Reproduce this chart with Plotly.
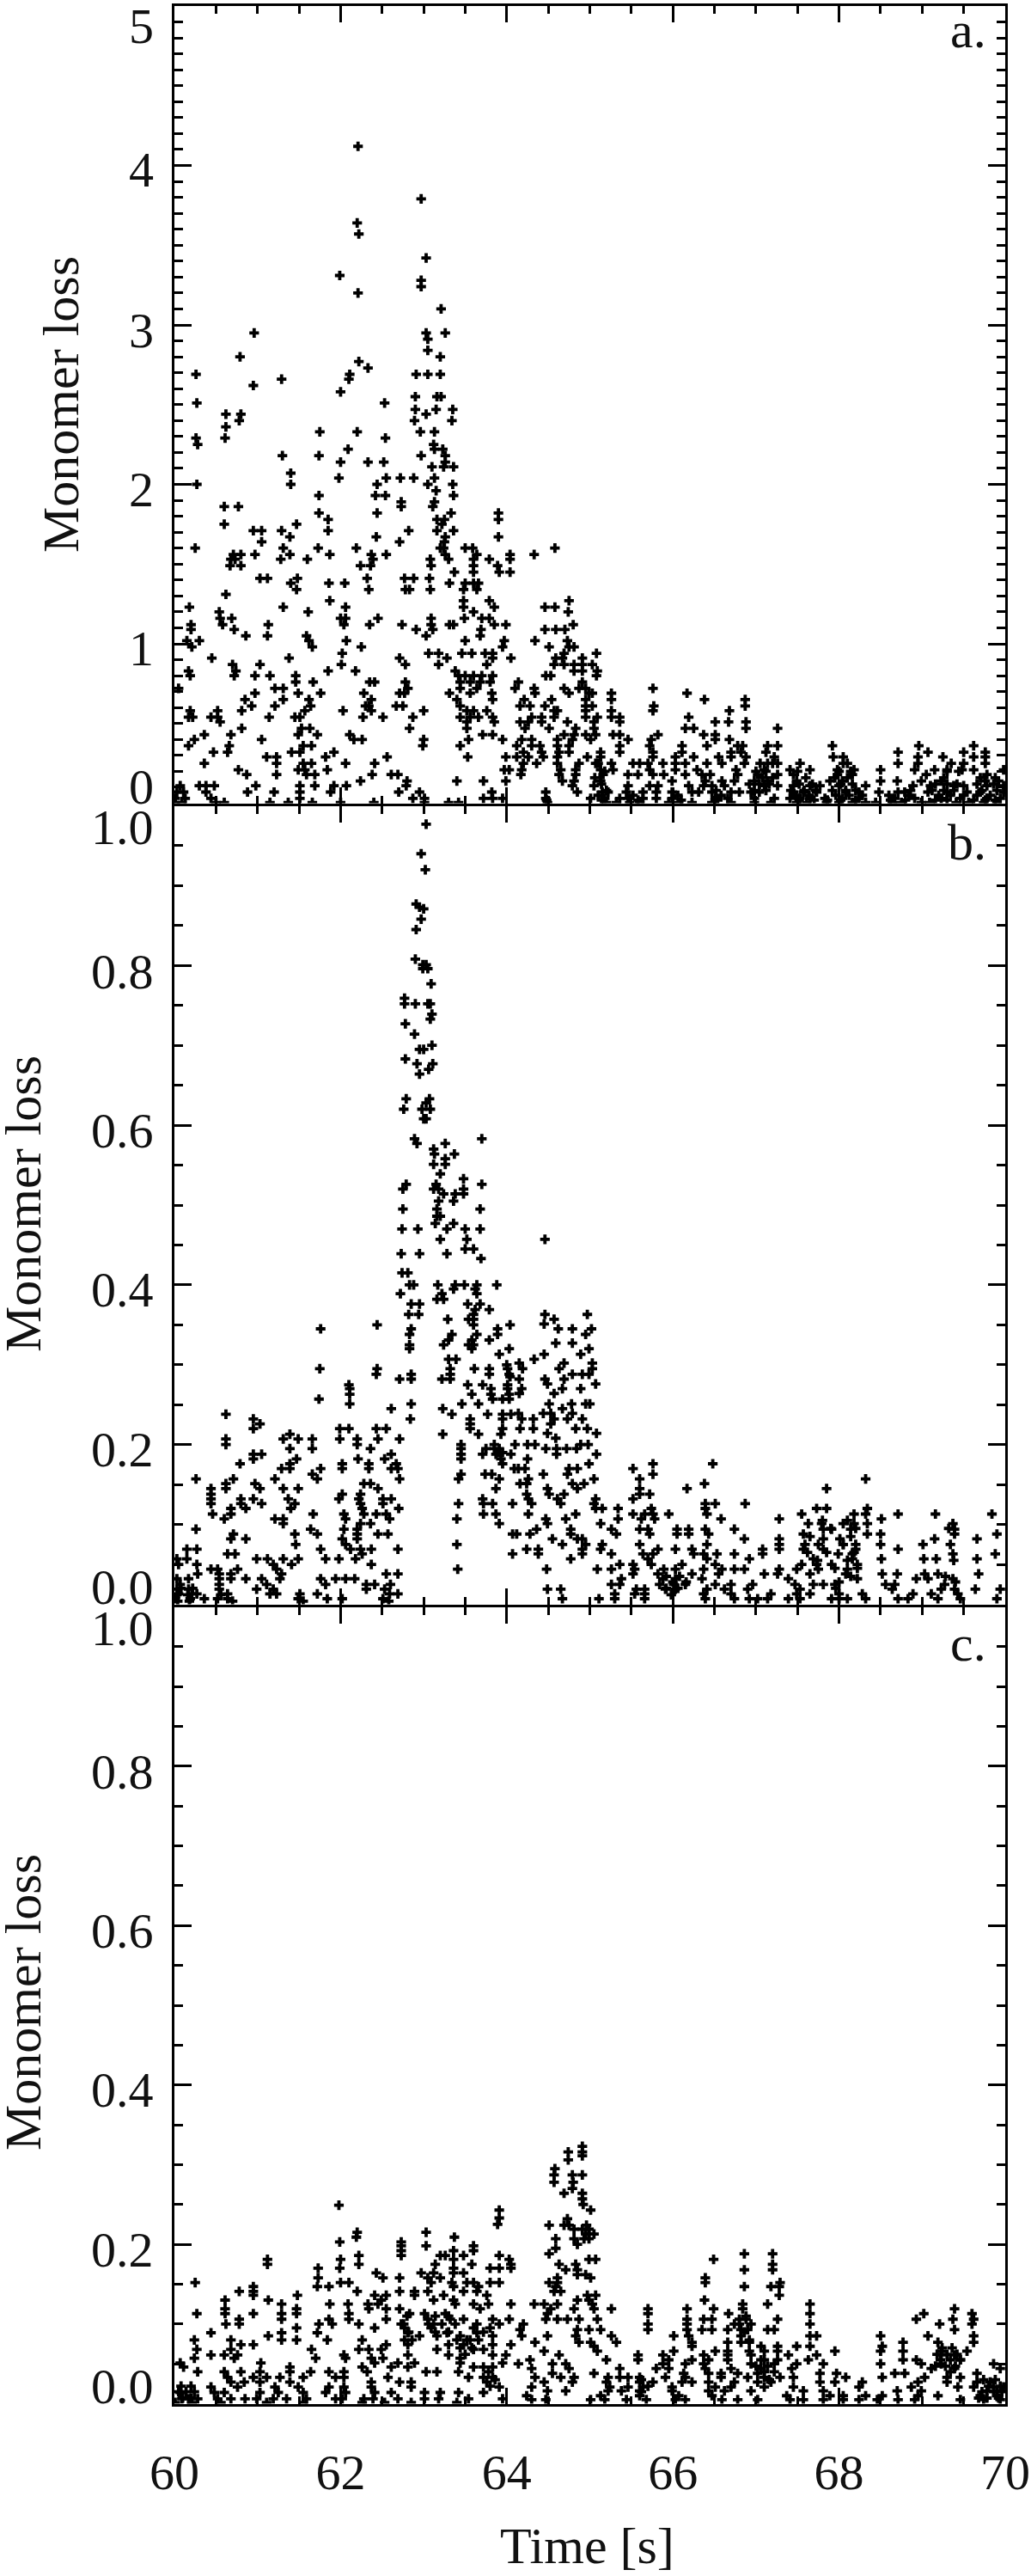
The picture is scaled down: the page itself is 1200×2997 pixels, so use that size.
import plotly.graph_objects as go

# Values: (loss level, [times at that level])
a_early = [
(4.12,[62.21]),(3.79,[62.97]),(3.64,[62.2]),(3.57,[62.22]),(3.42,[63.03]),(3.31,[61.99]),(3.28,[62.97]),(3.24,[62.97]),
(3.2,[62.21]),(3.1,[63.21]),(2.95,[60.96,63.03,63.26]),(2.91,[63.05]),(2.84,[63.05]),(2.8,[60.79,63.2]),(2.77,[62.22]),
(2.73,[62.33]),(2.69,[60.26,62.11,62.91,63.05,63.2]),(2.66,[61.29,62.1]),(2.62,[60.95]),(2.58,[62.0]),(2.55,[62.9,63.16,63.21]),
(2.51,[60.27,62.53]),(2.47,[62.9,63.15,63.35]),(2.44,[60.62,60.8,63.03]),(2.4,[60.78,62.89,63.34]),(2.36,[60.62]),
(2.33,[61.75,62.2,62.96,63.13]),(2.29,[60.26,60.61,62.54]),(2.25,[60.28,63.12]),(2.22,[62.09,63.13,63.23]),
(2.18,[61.3,61.74,62.97,63.26]),(2.14,[62.0,62.33,62.52,63.26]),(2.11,[63.1,63.24,63.36]),(2.07,[61.4]),
(2.04,[61.98,62.55,62.72,62.88,63.13]),(2.0,[60.27,61.4,62.44,63.05,63.35]),(1.96,[63.15]),(1.93,[61.74,62.42,62.54,63.36]),
(1.89,[62.73,63.13]),(1.86,[60.6,60.77,62.73,63.11]),(1.82,[61.74,62.44,63.33,63.9]),(1.78,[61.85,63.16,63.25,63.9]),
(1.75,[60.6,61.47,63.22]),(1.71,[60.95,61.05,61.29,61.85,62.82,63.16,63.36]),(1.67,[61.39,62.43,63.26,63.9]),
(1.64,[61.05,62.71,63.25]),(1.6,[60.25,61.31,61.73,62.19,63.2,63.5,63.59,63.24]),
(1.56,[60.71,60.8,60.97,61.39,61.87,62.37,62.55,63.26,63.64,64.04]),(1.53,[60.68,60.73,61.28,61.6,62.39,63.08,63.3,63.6,63.79,64.04]),
(1.49,[60.67,60.8,62.24,62.36,63.09,63.6,63.89]),(1.45,[63.37,63.6,63.91,64.04]),
(1.41,[61.03,61.12,61.48,62.32,62.77,62.88,63.07]),(1.38,[61.4,61.86,62.05,63.31,63.5,63.6,63.66]),
(1.34,[61.47,62.34,62.78,62.83,63.08,63.48,63.64]),(1.31,[60.62]),(1.27,[61.87,63.48,63.79]),
(1.23,[60.18,61.31,62.06,63.48,63.85]),(1.2,[60.54,61.61,63.6]),(1.16,[60.55,60.69,62.0,62.06,62.45,63.09,63.49,63.7,63.79]),
(1.12,[60.2,60.58,61.13,62.04,62.35,62.74,63.36,63.09,63.31,63.85,63.99]),(1.09,[60.2,60.72,62.91,63.11,63.69]),
(1.05,[60.86,61.12,61.59,63.03,63.68]),(1.02,[60.15,60.3,61.62,62.07,63.5,63.97]),(0.98,[60.21,61.66,62.25,63.95]),
(0.94,[62.02,63.06,63.18,63.46,63.58,63.74,63.83]),(0.91,[60.45,61.38,62.71,63.28,63.83,64.05]),
(0.87,[60.7,61.03,62.01,62.78,63.18,63.76]),(0.83,[60.17,60.74,61.85,62.18,63.38]),
(0.8,[60.19,60.72,60.97,61.15,61.46,63.42,63.5,63.6,63.7,63.83]),(0.76,[61.67,61.46,62.35,62.41,62.78,63.44,63.56,63.68,63.8]),
(0.72,[60.05,61.21,61.31,62.81,63.44,63.64]),(0.69,[60.97,61.49,61.76,62.28,62.71,62.77,63.31,63.56,63.82]),
(0.65,[60.85,61.31,61.62,62.37,63.4,63.83]),(0.61,[60.93,61.21,61.64,62.3,62.34,62.67,62.75,63.44]),
(0.58,[60.19,60.52,60.81,61.57,62.03,62.37,63.0,63.52,63.6,63.76]),
(0.54,[60.17,60.22,60.44,60.52,61.14,61.45,61.51,62.27,62.51,62.87,63.44,63.56,63.66,63.83]),
(0.51,[60.55,63.52,63.85]),(0.47,[60.81,61.53,61.63,62.83,63.52]),
(0.43,[60.36,60.68,61.49,61.72,62.11,63.71,63.83]),(0.4,[60.24,61.05,62.16,62.26,63.0,63.54,63.95]),
(0.36,[60.17,60.66,61.55,61.65,62.99,63.44]),(0.32,[60.47,60.64,61.41,61.51,61.92]),
(0.29,[61.11,61.23,61.82,62.56,63.53,63.99]),(0.25,[60.36,61.23,61.55,61.65,62.06,62.41]),
(0.21,[60.77,61.49,61.57,61.84,63.97,64.03]),(0.18,[60.87,61.23,61.59,61.69,62.38,62.61,62.69]),
(0.14,[62.24,62.8,63.4,63.72,63.99]),(0.11,[60.07,60.3,60.38,60.48,60.98,61.51,61.69,61.92,62.07,62.79]),
(0.07,[60.03,60.11,60.38,60.88,61.2,61.51,61.88,62.7,62.95,63.82]),(0.03,[60.01,60.13,60.44,61.51,62.87,63.01,63.72,63.83,63.95]),
(0.005,[60.01,60.09,60.5,60.6,61.15,61.37,61.66,62.0,62.4,63.01,63.3,63.42]),
]
a_late = [
(1.6,[64.58]),(1.56,[64.33]),(1.27,[64.75]),(1.23,[64.46,64.58]),(1.2,[64.74]),(1.12,[64.8]),(1.09,[64.46,64.59,64.7]),
(1.02,[64.34,64.73]),(0.98,[64.51,64.75,64.81]),(0.94,[64.69,65.08]),(0.91,[64.59,64.67,64.91]),
(0.87,[64.57,64.69,64.81,64.91,65.03]),(0.83,[64.81,64.91,65.09]),(0.8,[64.47,64.53,65.08]),(0.76,[64.14,64.91]),
(0.72,[64.1,64.33,64.69,64.87,64.95,65.76]),(0.69,[64.34,64.75,64.99,65.03,65.26,66.17]),
(0.65,[64.21,64.54,64.95,65.26,66.38,66.87]),(0.61,[64.16,64.28,64.46,64.95,65.03,65.77,66.87]),
(0.58,[64.57,64.61,64.95,65.26,65.76,66.68]),(0.54,[64.3,64.42,64.57,64.95,65.09,65.26,65.36,66.19]),
(0.51,[64.16,64.26,64.42,64.73,65.05,65.36,66.51,66.67,66.88]),(0.47,[64.22,64.51,64.83,65.05,66.15,66.25,66.88,67.26]),
(0.43,[64.69,64.81,64.95,65.07,65.28,65.36,65.82,66.37,66.51]),(0.4,[64.18,64.3,64.61,64.79,65.01,65.46,65.74,66.51,66.68]),
(0.36,[64.12,64.3,64.4,64.61,64.75,65.36,65.72,66.11,66.41,66.78,66.84,67.26,67.14,67.92,68.96,69.62]),
(0.32,[64.2,64.42,64.63,64.75,65.13,65.36,65.76,66.11,66.7,66.82,67.12,68.71,69.07,69.5,69.76]),
(0.29,[64.12,64.26,64.44,64.61,64.97,65.13,65.76,66.03,66.25,66.55,66.7,66.88,67.22,67.93,68.05,68.95,69.25,69.62,69.76]),
(0.25,[64.2,64.36,64.61,64.87,65.07,65.26,65.52,65.6,65.7,65.88,66.03,66.15,66.41,66.59,66.86,67.14,67.26,67.53,68.05,68.71,68.95,69.35,69.5,69.76]),
(0.21,[64.18,64.65,64.83,65.13,65.28,65.72,66.03,66.29,66.76,67.1,67.41,67.65,67.98,68.18,68.5,68.91,69.15,69.3,69.48,69.62,69.98]),
(0.18,[64.17,64.63,64.83,65.16,65.46,65.58,65.76,65.89,66.15,66.35,66.45,66.78,67.02,67.26,67.45,67.98,68.16,69.05,69.78]),
(0.14,[64.67,64.81,65.13,65.99,66.39,66.59,66.74,66.98,67.14,67.49,67.89,68.04,68.5,68.7,68.99,69.23,69.76,69.92]),
(0.11,[64.79,65.05,65.46,65.72,65.82,66.19,66.37,66.47,66.62,67.1,67.26,67.45,67.65,67.77,68.0,68.32,68.89,69.1,69.38,69.5,69.78,69.98]),
(0.07,[64.47,64.85,65.15,65.22,65.44,65.64,65.8,65.99,66.23,66.31,66.47,66.7,66.8,66.94,67.04,67.45,67.57,67.73,68.08,68.24,68.48,68.71,68.79,69.07,69.3,69.54,69.7,69.98]),
(0.03,[64.47,65.01,65.18,65.36,65.46,65.64,65.8,65.99,66.51,66.66,66.98,67.22,67.41,67.53,67.65,67.83,68.04,68.24,68.67,68.91,69.23,69.46,69.78,69.94]),
(0.005,[64.49,65.2,65.32,65.48,65.6,65.95,66.07,66.23,66.47,66.7,66.98,67.18,67.49,67.61,67.85,68.0,68.16,68.32,68.44,68.64,68.75,68.99,69.09,69.41,69.56,69.74,69.9]),
]
a_dense = [
(0.25,[65.1,67.05,67.2,68.1]),(0.2,[65.18,67.0,67.12,67.5,68.0,68.14,69.3,69.44]),
(0.16,[65.06,67.08,67.2,67.6,67.95,68.1,69.26,69.7,69.88]),
(0.12,[65.14,66.92,67.04,67.16,67.52,67.68,68.02,68.16,69.16,69.3,69.42,69.66,69.86]),
(0.08,[65.2,66.52,66.98,67.12,67.42,67.58,67.72,67.92,68.08,68.2,68.86,69.12,69.26,69.38,69.72,69.9]),
(0.05,[65.1,65.52,66.06,66.58,67.48,67.64,67.96,68.12,68.28,68.6,68.84,69.2,69.34,69.5,69.66,69.82]),
(0.02,[64.48,65.14,65.58,66.1,66.54,67.52,67.7,67.86,68.02,68.2,68.62,68.8,69.16,69.3,69.62,69.76,69.88]),
]

b_early = [
(0.977,[63.03]),(0.94,[62.97]),(0.92,[63.02]),(0.877,[62.91]),(0.873,[62.95]),(0.871,[63.0]),(0.858,[62.97]),(0.845,[62.91]),
(0.808,[62.9]),(0.801,[62.99,63.03]),(0.796,[62.99,63.05]),(0.777,[63.09]),(0.759,[62.77]),(0.752,[62.77,62.9,63.05,63.08]),
(0.739,[63.1]),(0.733,[63.08]),(0.727,[62.78]),(0.714,[62.89]),(0.7,[63.1]),(0.695,[62.95,63.0]),(0.683,[62.78]),
(0.677,[62.92,63.11]),(0.67,[63.06]),(0.664,[62.95]),(0.633,[62.79,63.07]),(0.628,[63.03]),(0.62,[62.76,62.98,63.08]),
(0.608,[63.0,63.03]),(0.583,[62.89,63.7]),(0.577,[62.92,63.26]),(0.57,[63.12]),(0.564,[63.13,63.37]),(0.558,[63.26]),
(0.551,[63.12,63.26]),(0.539,[63.2]),(0.533,[63.48]),(0.526,[62.79,63.15,63.7]),(0.52,[62.75,63.12,63.18,63.48]),
(0.514,[63.24,63.38,63.48]),(0.505,[63.18,63.36]),
(0.495,[62.75,63.16,63.68]),(0.486,[63.16,63.2]),(0.477,[63.14,63.36]),(0.47,[62.74,62.93,63.28,63.5,63.68]),
(0.457,[63.2,63.52]),(0.445,[63.5,63.6]),(0.439,[62.73,62.95,63.28]),(0.433,[63.69]),(0.415,[62.74,62.81]),
(0.4,[62.83,62.88,63.17,63.38,63.49,63.64,63.88]),(0.395,[63.36,63.62]),(0.389,[62.72,63.22,63.64]),(0.382,[63.16,63.24]),
(0.376,[62.85,62.95,63.53,63.68]),(0.369,[63.62,63.79]),(0.363,[62.82,62.94,63.6]),(0.357,[63.29,63.54,63.6]),
(0.35,[62.44,63.6,64.04]),(0.345,[61.76,62.85,63.89]),(0.338,[62.83,63.34,63.64,63.89]),(0.331,[63.3,63.58,63.79]),
(0.325,[62.83,63.24,63.54,63.6]),(0.32,[62.83,63.58,64.03]),(0.313,[63.91]),(0.307,[63.3,63.39]),
(0.295,[61.75,62.44,63.32,63.61,63.79,64.01]),(0.288,[62.43,62.85,63.32,63.79,64.03]),(0.282,[62.71,62.85,63.22,63.32]),
(0.275,[62.1,63.53,63.71,64.01]),(0.27,[62.11,63.81]),(0.263,[62.11,63.58,63.81,64.03]),(0.257,[61.74,63.83,63.95,64.03]),
(0.251,[62.11,62.85,63.46,63.66]),(0.245,[62.61,63.23]),(0.238,[60.62,63.34,63.77,63.95,64.05]),(0.232,[60.95,62.84,63.56,63.95]),
(0.226,[61.03,63.56]),(0.22,[60.95,61.99,62.1,62.43,62.55,63.56,63.95]),(0.213,[61.39,63.23,63.66,63.93]),
(0.207,[60.62,61.31,61.49,61.66,61.99,62.2,62.45,62.71]),(0.2,[60.62,62.2,63.45,63.85]),
(0.195,[61.39,61.66,62.36,63.45,63.75,63.85,63.91]),(0.188,[60.95,61.05,62.61,63.45,63.71,63.87,64.05]),
(0.182,[60.95,61.47,62.21,62.53,63.45,63.93]),(0.176,[60.79,61.39,62.02,62.34,62.67,63.95]),
(0.17,[61.29,61.39,61.76,62.02,62.34,62.61,62.69,64.09]),(0.163,[61.66,63.45,63.74,63.82]),
(0.157,[60.26,60.71,61.21,61.72,62.71,63.42,63.91]),(0.151,[60.62,60.97,62.28,62.36]),
(0.145,[60.44,60.62,61.03,61.31,61.49,62.45,63.87]),(0.138,[60.44,62.02,62.24]),
(0.132,[60.44,60.8,60.95,61.37,61.98,62.22,62.61,62.51,63.71]),(0.126,[60.44,60.8,61.05,61.45,63.42,62.24,62.51,63.72,63.83,64.07]),
(0.12,[60.68,60.86,61.4,62.7,62.26]),(0.113,[60.46,60.68,61.67,62.04,62.28,62.43,62.55,63.72,63.87]),
(0.107,[60.6,61.21,61.31,62.06,62.59,63.4]),(0.101,[61.31,62.24,62.36,63.91]),(0.094,[60.26,61.64,62.04,62.2]),
(0.088,[60.71,61.45,61.72,62.45,62.57,62.2,64.07]),(0.082,[60.68,60.86,62.02,62.2]),(0.075,[61.46,62.06,63.4]),
(0.069,[60.15,60.27,61.76,62.12,62.24,62.37,62.69]),(0.063,[60.64,60.73,62.26,64.07]),
(0.057,[60.03,60.15,60.99,61.12,61.31,61.49,61.82,61.98,62.18]),(0.05,[60.05,60.27,61.19,61.41,62.37]),
(0.044,[60.44,60.52,60.76,63.41,61.23]),(0.038,[60.28,60.54,60.68,61.29,62.55,62.69]),
(0.032,[60.03,60.17,60.54,60.68,60.86,61.05,61.27,61.76,61.94,62.06,62.17]),(0.025,[60.07,60.54,61.11,61.82,62.41,62.31,62.6]),
(0.019,[60.03,60.17,60.54,60.99,61.19,62.31,62.53]),(0.013,[60.05,60.21,60.27,60.64,61.15,61.23,61.51,61.72,62.59,62.69]),
(0.007,[60.01,60.19,60.36,60.52,60.64,61.49,61.84,62.02,62.51]),
]
b_late = [
(0.457,[64.46]),(0.363,[64.46,64.97]),(0.357,[64.57]),(0.351,[64.45]),(0.345,[64.62,64.79,65.02]),(0.338,[64.95]),
(0.327,[64.59,64.79]),(0.32,[64.99]),(0.313,[64.45,64.89]),(0.307,[64.33]),(0.302,[64.15,64.69,65.03]),(0.295,[64.19,64.63,65.03]),
(0.288,[64.79,64.91,64.99]),(0.282,[64.15,64.46,64.69]),(0.276,[64.49,65.07]),(0.27,[64.18,64.67,64.89]),(0.264,[64.15,64.57]),
(0.251,[64.51,64.78,64.95,65.0]),(0.245,[64.67]),(0.239,[64.14,64.44,64.53,64.79]),(0.232,[64.18,64.32,64.73,64.57,64.91]),
(0.226,[64.53]),(0.22,[64.16,64.32,64.83,64.97]),(0.214,[64.49,65.08]),(0.208,[64.59]),(0.2,[64.1,64.25,64.34,64.89,64.98]),
(0.195,[64.47,64.6,64.72,64.84]),(0.188,[64.6,65.08]),(0.182,[64.25]),(0.176,[64.99,65.76,66.48]),(0.17,[65.52,64.14,64.22,64.75,64.85]),
(0.163,[64.44,64.73,65.76]),(0.157,[64.26,65.05,68.32,65.6]),(0.151,[64.16,64.24,64.79,64.93,66.38]),
(0.145,[64.49,64.85,66.17,67.85,65.6]),(0.138,[64.24,64.51,64.69,65.6,65.72]),(0.132,[64.26,64.61,65.07,65.52]),
(0.126,[64.3,64.65,65.05,66.39,66.51,66.87]),(0.12,[65.07,65.15,65.34,65.74,66.39,67.73,67.85,68.34]),
(0.113,[64.26,64.83,65.52,65.66,65.76,65.95,66.41,67.55,68.18,68.32,68.71,69.16,69.84]),
(0.107,[64.47,64.71,65.34,65.62,65.78,66.58,67.28,68.51]),(0.101,[64.49,65.13,67.63,67.79,68.05,68.18,68.34,69.37]),
(0.094,[64.36,64.77,65.26,65.6,65.7,66.05,66.19,66.39,66.74,67.81,67.91,68.14,69.39]),
(0.088,[64.12,64.28,64.77,65.32,65.72,66.05,66.19,66.43,67.57,68.34,68.5,69.39,69.9]),
(0.082,[64.55,64.85,64.91,66.86,67.28,67.81,68.01,69.15,69.66]),
(0.075,[64.67,64.95,65.15,65.6,66.41,67.28,67.59,68.05,68.2,68.5,69.01]),
(0.069,[64.24,64.38,64.91,65.13,65.82,66.03,66.23,67.28,67.08,67.57,67.81,68.2,68.71]),
(0.063,[64.38,64.91,65.26,65.64,65.76,66.25,66.37,66.53,66.74,67.08,67.99,68.16,69.37,69.88]),
(0.057,[64.77,65.7,66.41,66.92,67.69,68.16,68.51,69.02,69.17,69.66]),
(0.05,[65.36,65.52,65.74,66.11,66.51,67.55,67.73,67.91,68.22]),
(0.044,[64.48,65.09,65.26,65.54,65.89,66.03,66.37,66.59,66.74,66.86,67.28,67.49,67.75,68.1]),
(0.038,[65.52,65.82,66.23,66.55,67.1,67.26,67.65,68.08,68.52,68.7,69.03,69.19,69.68]),
(0.032,[65.38,65.88,66.03,66.35,67.39,68.22,68.93,69.07,69.37]),
(0.025,[65.26,65.36,65.84,66.01,66.15,66.51,66.7,66.96,67.47,67.69,67.81,67.95,68.56,68.67,69.27]),
(0.019,[64.49,64.65,65.56,65.66,65.91,66.03,66.41,66.62,66.9,67.53,68.64,69.23,69.39,69.64,69.94]),
(0.013,[65.3,65.54,65.66,66.37,66.7,67.18,67.49,67.65,68.0,68.28,68.89,69.11,69.43]),
(0.007,[64.67,65.11,65.3,65.66,66.39,66.74,66.92,67.02,67.14,67.39,67.53,67.91,68.0,68.1,68.32,68.71,68.83,69.19,69.46,69.9]),
]
b_dense = [
(0.3,[64.0]),(0.285,[64.04]),(0.27,[64.01]),(0.19,[63.9,63.95]),(0.105,[67.8,68.1]),(0.095,[67.9,68.2,69.32]),(0.085,[67.65,68.14]),
(0.075,[67.75,68.05,69.34]),(0.065,[67.62,67.85,68.18]),(0.055,[67.74,68.1,69.38]),(0.045,[67.95,68.22]),(0.035,[65.92,66.08,68.14,69.28]),
(0.028,[66.0,66.16,68.0,69.4]),(0.02,[60.08,60.22,65.92,66.06,67.96]),(0.012,[60.03,60.16,60.56,65.98]),(0.004,[60.04,60.18,60.7,61.55,62.58]),
]

c_early = [
(0.249,[61.98]),(0.243,[63.91]),(0.233,[63.91]),(0.225,[63.89]),(0.215,[63.03,62.2]),(0.209,[62.19,63.37]),(0.203,[61.99,62.73]),
(0.198,[63.03,62.73,63.6]),(0.192,[63.36,63.6,62.73]),(0.186,[62.22,62.73,63.2,63.26,63.48,63.91]),
(0.181,[61.12,62.0,63.36,64.03]),(0.175,[61.12,62.22,63.14,63.58,64.05]),(0.17,[61.73,61.99,63.36,63.8,63.91,64.05]),
(0.164,[62.43,62.97,63.12,63.36,63.48]),(0.158,[61.73,62.51,62.71,63.05,63.2]),
(0.152,[60.25,62.0,62.1,63.09,63.34,63.52,63.6,63.8,63.91]),(0.147,[60.95,61.72,61.86,63.36,63.66]),
(0.141,[60.78,60.95,62.2,62.71,62.89,63.05,63.48,63.64]),(0.136,[60.95,61.48,62.41,62.55,62.89,63.24,63.76]),
(0.13,[60.61,61.13,62.49,63.36,63.12]),(0.125,[61.29,61.87,62.09,62.33,62.45,63.38,63.6,63.78,64.05]),
(0.119,[60.61,61.47,62.34,62.55,62.71,63.68]),(0.113,[60.27,60.61,60.95,61.29,61.47,62.1,62.83,63.01,63.26]),
(0.106,[60.78,61.29,61.86,62.1,62.55,63.05,63.32,63.48,63.83,64.03]),(0.1,[60.62,60.78,61.74,61.9,62.22,62.73,63.12,63.64,63.91]),
(0.095,[61.47,62.41,62.77,63.09,63.6,63.8]),(0.089,[60.44,61.29,61.72,62.81,63.28,63.64]),
(0.085,[61.13,62.95,63.16,63.44,63.83]),(0.08,[60.24,60.68,61.29,61.47,61.84,62.26,62.77,63.4,63.56]),
(0.074,[60.8,60.95,62.81,62.55,63.3,63.48,63.83,64.05]),(0.068,[60.27,60.68,61.65,62.22,62.34,62.49,63.16,63.6,63.72]),
(0.061,[60.44,60.6,60.76,62.04,62.81,63.3,63.83,63.99]),(0.057,[60.24,60.72,61.7,62.06,62.37,62.51,63.44]),
(0.051,[60.07,61.04,62.41,62.69,62.89,63.44,63.95]),(0.046,[60.11,61.39,62.26,62.61,62.81,63.6,63.72,63.83]),
(0.04,[60.28,60.6,60.8,61.03,61.39,61.64,61.86,62.04,62.32,63.03,63.16,63.42]),
(0.033,[60.64,60.95,61.11,61.27,61.55,61.94,62.04,62.57,63.54,63.72,63.83]),
(0.027,[60.68,60.84,61.03,61.39,62.37,62.71,62.85,63.76]),(0.021,[60.44,60.76,61.21,61.49,61.86,62.04,62.37,62.85,63.91]),
(0.014,[60.07,60.48,60.6,61.03,61.25,61.55,61.82,62.06,62.41,62.61,63.01,63.2,63.42,63.72]),
(0.006,[60.09,60.17,60.28,60.52,60.68,60.85,60.99,61.19,61.35,61.59,61.94,62.02,62.28,62.39,62.69,63.01,63.18,63.54,63.95]),
(0.0015,[60.01,60.21,60.56,61.11,61.55,62.26,62.53,62.85,63.4]),
]
c_late = [
(0.323,[64.91]),(0.316,[64.74,64.91]),(0.311,[64.91]),(0.306,[64.74]),(0.295,[64.58]),(0.287,[64.57,64.79,64.91]),(0.278,[64.57,64.8]),
(0.27,[64.79]),(0.264,[64.69,64.91]),(0.257,[64.91]),(0.25,[64.92]),(0.243,[65.01]),(0.232,[64.73]),
(0.224,[64.51,64.69,64.75,64.96]),(0.219,[64.81,64.91,64.99]),(0.213,[64.95,64.99,65.05]),(0.207,[64.59,64.81,64.93,64.99]),
(0.2,[64.85]),(0.195,[64.59]),(0.188,[64.51,66.86,67.2]),(0.181,[64.99,65.07,66.49]),(0.175,[64.63,64.83,67.2]),
(0.168,[64.71,64.85,66.86,67.2]),(0.162,[64.85,64.95]),(0.158,[64.61,65.01,66.39]),(0.152,[64.51,64.61,66.39,67.29]),
(0.147,[64.59,66.86,67.18,67.28]),(0.141,[64.65,64.57]),(0.136,[64.97,65.07,67.28]),(0.13,[64.85,64.99,66.38]),
(0.125,[64.33,64.45,64.61,65.03,66.84,67.14,67.65]),(0.119,[64.53,65.26,64.81,65.05,65.7,66.17,66.49,66.84,69.39]),
(0.113,[64.49,66.67,67.65,69.02,65.7,69.6]),(0.106,[64.47,64.61,64.73,64.87,65.09,66.17,66.37,66.47,66.8,66.88,67.26,68.93,69.37,69.62]),
(0.1,[64.2,65.7,66.74,66.17,67.65,69.21,69.6]),(0.093,[64.16,64.85,64.99,65.13,65.7,66.17,66.35,66.47,66.66,66.82,66.9,67.22,67.14,69.39]),
(0.085,[64.18,64.49,64.83,65.26,66.01,66.19,66.82,67.65,67.73,68.5,69.62,69.07]),
(0.077,[64.34,64.87,65.01,65.32,66.23,66.66,66.82,66.92,68.77,69.19,69.62]),
(0.072,[65.05,66.23,67.26,67.49,68.52,67.06,67.65]),
(0.066,[64.45,65.09,66.01,66.51,66.66,66.92,67.1,67.26,67.95,68.5,68.77,69.23,69.54]),
(0.061,[64.63,65.58,65.88,66.37,66.66,66.94,67.39,67.73,69.23,69.39]),
(0.055,[64.28,65.2,65.58,65.95,66.23,66.43,66.66,67.1,67.26,67.63,68.77,68.93,69.46]),
(0.05,[64.14,64.55,64.71,65.88,66.15,66.37,66.94,67.22,67.49,67.81,68.5,68.99,69.23,69.86]),
(0.044,[64.3,64.75,65.36,65.8,65.95,66.39,66.7,67.06,67.43,69.11,69.39,69.94]),
(0.038,[64.55,65.05,66.13,66.43,66.58,66.78,67.02,67.77,67.97,68.67,68.79,69.66]),
(0.033,[64.34,64.65,64.81,65.22,65.36,65.46,65.6,65.91,66.15,66.58,66.9,67.1,67.29,67.45,68.08,68.52,69.03,69.3,69.46]),
(0.027,[64.45,64.79,65.2,65.6,65.76,66.11,66.23,66.43,66.74,67.02,67.18,67.77,67.95,68.28,68.95,69.3,69.66,69.82]),
(0.021,[64.3,65.24,65.46,65.64,65.99,66.51,66.7,67.1,67.45,68.24,68.87,69.43,69.62,69.86,69.98]),
(0.016,[64.49,64.71,65.22,65.38,65.6,65.99,66.43,66.62,66.94,67.57,67.81,68.7,68.99,69.9,69.78]),
(0.01,[64.24,65.13,65.6,66.07,66.47,67.37,67.89,68.05,68.32,68.52,68.95,69.19,69.7,69.9]),
(0.005,[64.3,64.47,65.01,65.18,65.44,65.68,66.03,66.15,66.59,66.78,67.02,67.41,67.57,67.81,68.05,68.24,68.46,68.71,68.91,69.46,69.74,69.94]),
]
c_dense = [
(0.11,[62.8,63.14,63.3,66.88]),(0.1,[62.76,63.06,63.22,63.38,66.8,66.94]),(0.09,[62.82,63.14,63.3,63.72,66.86]),(0.08,[62.86,63.52,63.66,66.92]),
(0.07,[63.44,63.58,69.24,69.36]),(0.062,[63.5,69.18,69.3,69.42]),(0.055,[67.06,69.22,69.34,69.46]),(0.047,[67.0,67.14,69.16,69.28,69.4]),
(0.04,[63.78,67.1,67.22,69.34]),(0.03,[63.86,65.62,67.16,69.74,69.88]),(0.022,[60.08,60.2,63.8,65.7,69.8,69.94]),
(0.015,[60.05,60.14,60.24,65.62,69.72,69.86,69.96]),(0.007,[60.1,60.2,69.68,69.78,69.92]),
]

tick_x = [60, 62, 64, 66, 68, 70]
a_ticks = ["0", "1", "2", "3", "4", "5"]
bc_ticks = ["0.0", "0.2", "0.4", "0.6", "0.8", "1.0"]
panel_letters = ["a.", "b.", "c."]
y_title = "Monomer loss"
x_title = "Time [s]"

W, H = 1200, 2997
SERIF = "Liberation Serif"
INK = "#111111"
X0, X1 = 203, 1170
PANELS = [(7, 934.5), (937.5, 1866.5), (1869.5, 2796.5)]


def unpack(rows):
    xs, ys = [], []
    for level, times in rows:
        for t in times:
            xs.append(t)
            ys.append(level)
    return xs, ys


fig = go.Figure()
series = [(a_early + a_late + a_dense, "x", "y"), (b_early + b_late + b_dense, "x2", "y2"), (c_early + c_late + c_dense, "x3", "y3")]
for rows, xa, ya in series:
    xs, ys = unpack(rows)
    fig.add_trace(go.Scatter(
        x=xs, y=ys, xaxis=xa, yaxis=ya, mode="markers", showlegend=False,
        marker=dict(symbol="cross-thin", size=8, color="black", line=dict(color="black", width=3.8)),
    ))

ranges = [(0, 5), (0, 1), (0, 1)]
y_major = [1, 0.2, 0.2]
y_minor = [0.1, 0.05, 0.05]
for i, ((top, bottom), rng) in enumerate(zip(PANELS, ranges)):
    sfx = "" if i == 0 else str(i + 1)
    fig.update_layout({
        "xaxis" + sfx: dict(
            domain=[X0 / W, X1 / W], range=[60, 70], anchor="y" + sfx,
            showgrid=False, zeroline=False, showline=True, linewidth=3, linecolor="black", mirror="ticks",
            ticks="inside", ticklen=19, tickwidth=2.5, tickcolor="black",
            tickmode="array", tickvals=tick_x, ticktext=[str(v) for v in tick_x],
            showticklabels=i == 2, ticklabelstandoff=27, tickfont=dict(family=SERIF, size=58, color=INK),
            minor=dict(ticks="inside", ticklen=9, tickwidth=2.5, tickcolor="black", dtick=0.5, tick0=60, showgrid=False),
        ),
        "yaxis" + sfx: dict(
            domain=[1 - bottom / H, 1 - top / H], range=list(rng), anchor="x" + sfx,
            showgrid=False, zeroline=False, showline=True, linewidth=3, linecolor="black", mirror="ticks",
            ticks="inside", ticklen=20, tickwidth=2.5, tickcolor="black",
            tick0=0, dtick=y_major[i], showticklabels=False,
            minor=dict(ticks="inside", ticklen=10, tickwidth=2.5, tickcolor="black", dtick=y_minor[i], tick0=0, showgrid=False),
        ),
    })

ann = []
def label(txt, val, axis, shift):
    ann.append(dict(text=txt, x=0, xref="paper", y=val, yref=axis, yshift=shift, xshift=181,
                    xanchor="right", yanchor="middle", showarrow=False,
                    font=dict(family=SERIF, size=58, color=INK)))

for txt, val, s in zip(a_ticks, [0, 1, 2, 3, 4, 5], [19, -6, -6, -7, -5, -24]):
    label(txt, val, "y", s)
for axis in ("y2", "y3"):
    for txt, val, s in zip(bc_ticks, [0, 0.2, 0.4, 0.6, 0.8, 1.0], [20, -6, -6, -6, -7, -25]):
        label(txt, val, axis, s)

for cy, cx in zip([471, 1401, 2330], [71, 27, 27]):
    ann.append(dict(text=y_title, x=cx / W, xref="paper", y=1 - cy / H, yref="paper", textangle=-90,
                    xanchor="center", yanchor="middle", showarrow=False,
                    font=dict(family=SERIF, size=60, color=INK)))
for txt, cy in zip(panel_letters, [35, 980, 1912]):
    ann.append(dict(text=txt, x=1150 / W, xref="paper", y=1 - cy / H, yref="paper",
                    xanchor="right", yanchor="middle", showarrow=False,
                    font=dict(family=SERIF, size=60, color=INK)))
ann.append(dict(text=x_title, x=684 / W, xref="paper", y=1 - 2962 / H, yref="paper",
                xanchor="center", yanchor="middle", showarrow=False,
                font=dict(family=SERIF, size=60, color=INK)))

fig.update_layout(width=W, height=H, margin=dict(l=0, r=0, t=0, b=0, autoexpand=False), autosize=False,
                  paper_bgcolor="white", plot_bgcolor="white", annotations=ann, showlegend=False)
fig.write_html("out.html", config={"displayModeBar": False},
               post_script="document.body.style.margin='0';")
